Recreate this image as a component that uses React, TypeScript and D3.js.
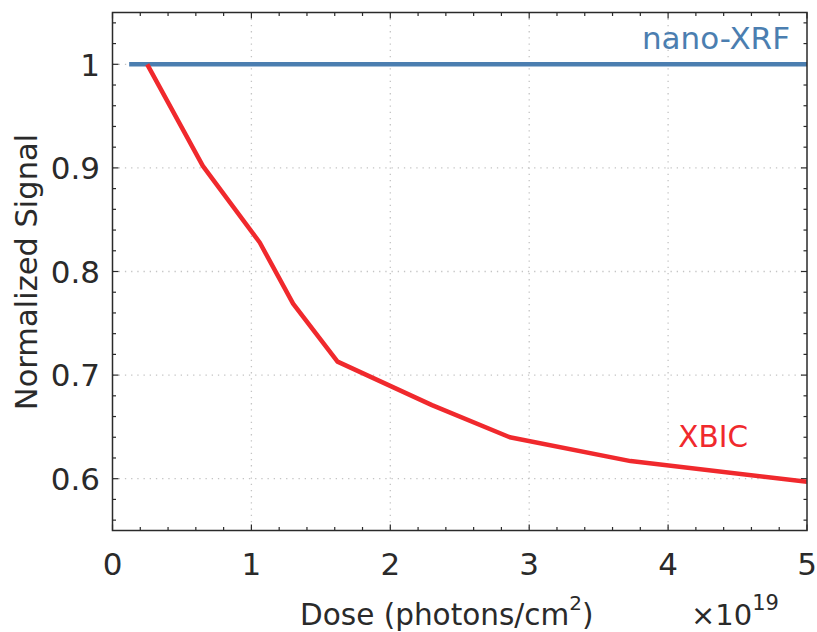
import React from "react";
import * as d3 from "d3";

const xbicDose = [0.25, 0.65, 1.06, 1.3, 1.62, 2.3, 2.86, 3.73, 5.0];
const xbicSignal = [1.0, 0.902, 0.828, 0.769, 0.713, 0.671, 0.64, 0.617, 0.597];
const xrfDose = [0.12, 5.0];
const xrfSignal = [1.0, 1.0];
const xTicks = [0, 1, 2, 3, 4, 5];
const yTicks = [0.6, 0.7, 0.8, 0.9, 1];
const xLabel = "Dose (photons/cm";
const yLabel = "Normalized Signal";
const seriesNames = ["nano-XRF", "XBIC"];

const W = 817;
const H = 632;
const L = 112.5;
const R = 807;
const T = 12.5;
const B = 530.5;
const BLUE = "#4b7eb0";
const RED = "#f0292d";
const AX = "#2a2a2a";
const FONT = "DejaVu Sans, sans-serif";

export default function App() {
  const x = d3.scaleLinear().domain([0, 5]).range([L, R]);
  const y = d3.scaleLinear().domain([0.55, 1.05]).range([B, T]);
  const xMinor = d3.range(0, 5.0001, 0.2);
  const yMinor = d3.range(0.56, 1.0501, 0.02);
  const line = d3
    .line<[number, number]>()
    .x((d) => x(d[0]))
    .y((d) => y(d[1]));
  const xbic = xbicDose.map((d, i) => [d, xbicSignal[i]] as [number, number]);
  const xrf = xrfDose.map((d, i) => [d, xrfSignal[i]] as [number, number]);
  const maj = 6;
  const min = 3.5;
  return (
    <svg
      width={W}
      height={H}
      style={{ position: "absolute", left: 0, top: 0, background: "#fff" }}
      fontFamily={FONT}
    >
      <defs>
        <clipPath id="plot">
          <rect x={L} y={T} width={R - L} height={B - T} />
        </clipPath>
      </defs>
      <rect x={0} y={0} width={W} height={H} fill="#fff" />
      {/* grid */}
      {xTicks.slice(1, -1).map((t) => (
        <line key={"gx" + t} x1={x(t)} x2={x(t)} y1={T} y2={B} stroke="#c4c4c4" strokeWidth={1.3} strokeDasharray="1.3,4.9" />
      ))}
      {yTicks.map((t) => (
        <line key={"gy" + t} x1={L} x2={R} y1={y(t)} y2={y(t)} stroke="#c4c4c4" strokeWidth={1.3} strokeDasharray="1.3,4.9" />
      ))}
      {/* ticks */}
      {xMinor.map((t, i) => {
        const len = i % 5 === 0 ? maj : min;
        return (
          <g key={"xt" + i}>
            <line x1={x(t)} x2={x(t)} y1={B} y2={B - len} stroke={AX} strokeWidth={1.2} />
            <line x1={x(t)} x2={x(t)} y1={T} y2={T + len} stroke={AX} strokeWidth={1.2} />
          </g>
        );
      })}
      {yMinor.map((t, i) => {
        const isMaj = Math.abs(Math.round(t * 10) - t * 10) < 1e-6;
        const len = isMaj ? maj : min;
        return (
          <g key={"yt" + i}>
            <line x1={L} x2={L + len} y1={y(t)} y2={y(t)} stroke={AX} strokeWidth={1.2} />
            <line x1={R} x2={R - len} y1={y(t)} y2={y(t)} stroke={AX} strokeWidth={1.2} />
          </g>
        );
      })}
      {/* lines */}
      <g clipPath="url(#plot)">
        <path d={line(xrf) || ""} fill="none" stroke={BLUE} strokeWidth={4.5} />
        <path d={line(xbic) || ""} fill="none" stroke={RED} strokeWidth={4.5} strokeLinejoin="round" />
      </g>
      {/* frame */}
      <rect x={L} y={T} width={R - L} height={B - T} fill="none" stroke={AX} strokeWidth={1.5} />
      {/* tick labels */}
      {xTicks.map((t) => (
        <text key={"xl" + t} x={x(t)} y={575} textAnchor="middle" fontSize={31} fill={AX}>
          {t}
        </text>
      ))}
      {yTicks.map((t) => (
        <text key={"yl" + t} x={100} y={y(t) + 11.3} textAnchor="end" fontSize={31} fill={AX}>
          {t}
        </text>
      ))}
      {/* axis labels */}
      <text x={300} y={625} fontSize={29.5} fill={AX}>
        {xLabel}
        <tspan fontSize={20} dy={-15}>2</tspan>
        <tspan dy={15}>)</tspan>
      </text>
      <text x={691} y={625} fontSize={29} fill={AX}>
        ×10
        <tspan fontSize={21} dy={-15}>19</tspan>
      </text>
      <text
        transform={`translate(37, 272) rotate(-90)`}
        textAnchor="middle"
        fontSize={30.5}
        fill={AX}
      >
        {yLabel}
      </text>
      {/* series labels */}
      <text x={790} y={49} textAnchor="end" fontSize={31} fill={BLUE}>
        {seriesNames[0]}
      </text>
      <text x={748} y={447} textAnchor="end" fontSize={29.5} fill={RED}>
        {seriesNames[1]}
      </text>
    </svg>
  );
}
